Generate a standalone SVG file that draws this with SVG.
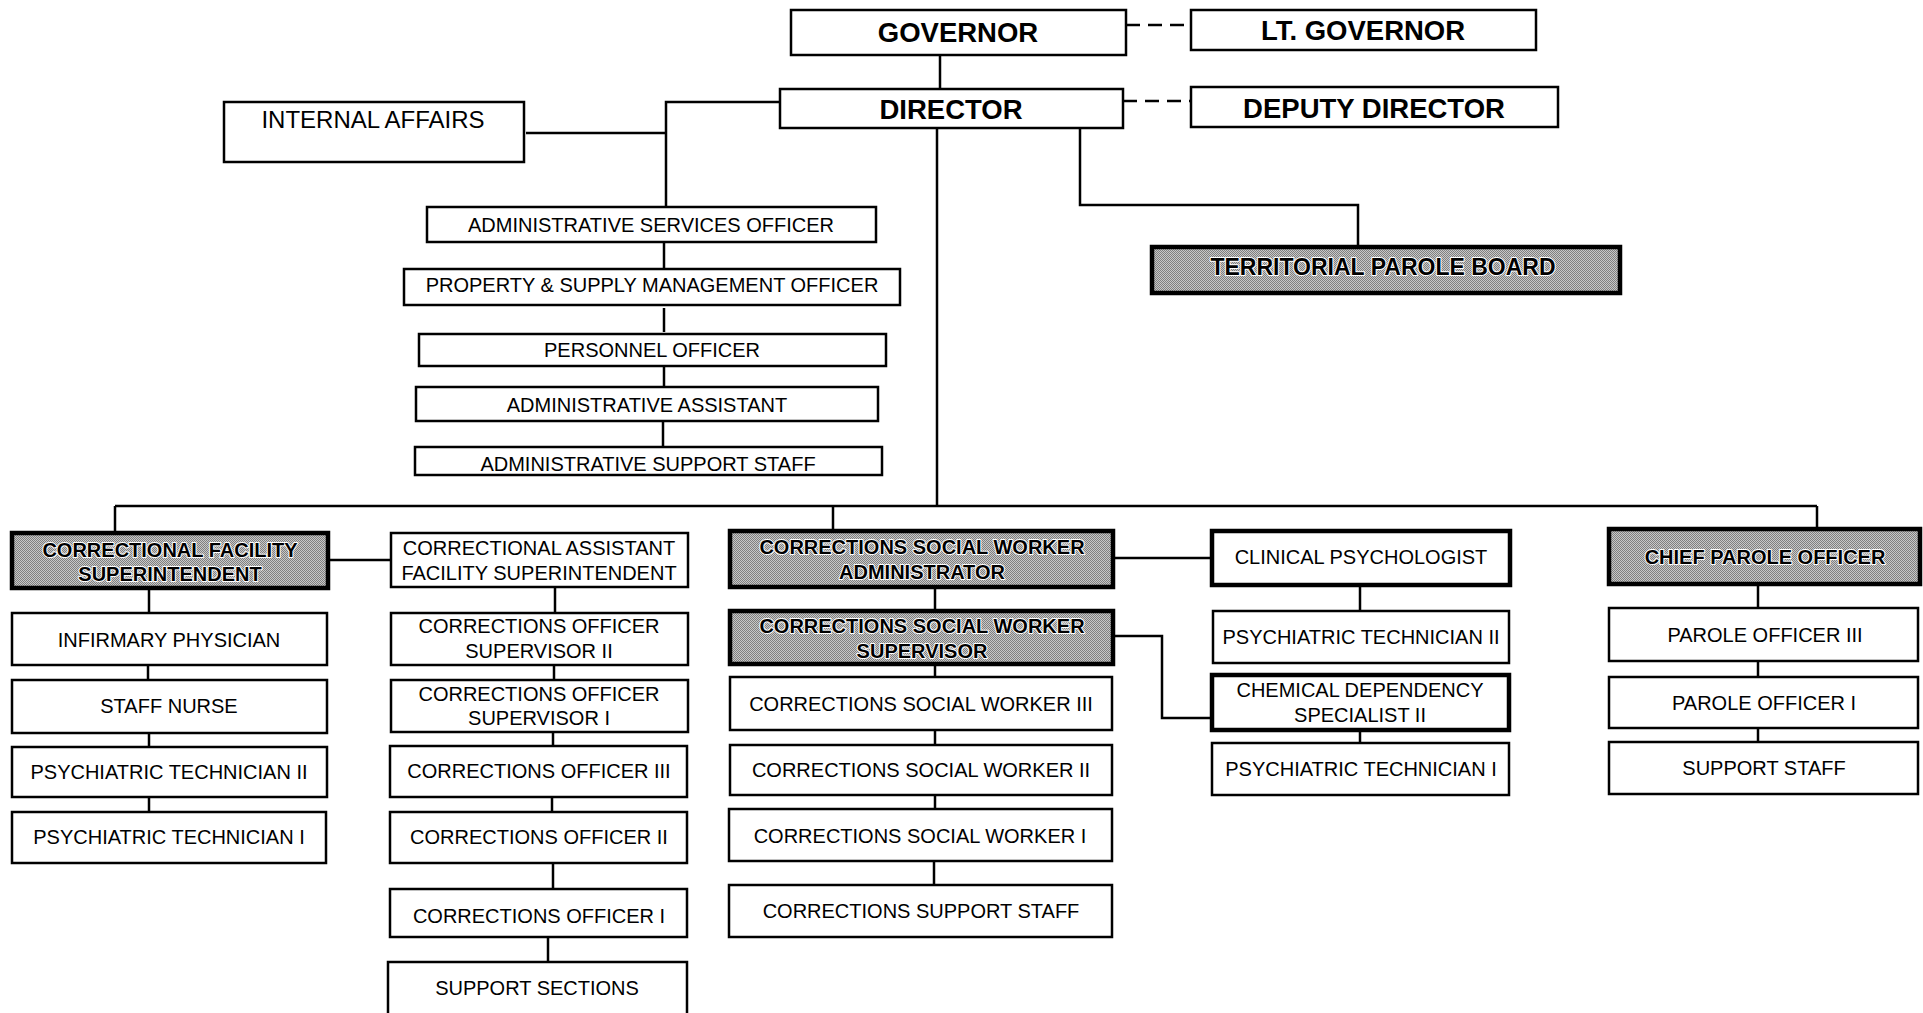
<svg xmlns="http://www.w3.org/2000/svg" width="1923" height="1013" viewBox="0 0 1923 1013">
<defs>
<pattern id="stip" width="2" height="2" patternUnits="userSpaceOnUse">
<rect width="2" height="2" fill="#c8c8c8"/>
<rect width="1" height="1" fill="#808080"/>
<rect x="1" y="1" width="1" height="1" fill="#808080"/>
</pattern>
<style>
.box{fill:#fff;stroke:#000;stroke-width:2.5}
.thick{stroke-width:4.5}
.shade{fill:url(#stip);stroke:#000;stroke-width:4.5}
.t{font-family:"Liberation Sans",Arial,sans-serif;font-size:20px;text-anchor:middle;fill:#000}
.b{font-weight:bold}
.big{font-size:27.5px}
.halo{stroke:#fff;stroke-width:2;paint-order:stroke;stroke-linejoin:round}
.ln{stroke:#000;stroke-width:2.5;fill:none}
.dash{stroke-dasharray:14 8}
</style>
</defs>
<rect width="1923" height="1013" fill="#fff"/>

<g id="connectors">
<line class="ln dash" x1="1126" y1="25" x2="1191" y2="25"/>
<line class="ln dash" x1="1123" y1="101" x2="1191" y2="101"/>
<line class="ln" x1="940" y1="55" x2="940" y2="89"/>
<polyline class="ln" points="780,102 666,102 666,207"/>
<line class="ln" x1="526" y1="133" x2="666" y2="133"/>
<line class="ln" x1="664" y1="242" x2="664" y2="269"/>
<line class="ln" x1="664" y1="308" x2="664" y2="332"/>
<line class="ln" x1="664" y1="366" x2="664" y2="387"/>
<line class="ln" x1="663" y1="421" x2="663" y2="447"/>
<polyline class="ln" points="1080,128 1080,205 1358,205 1358,247"/>
<line class="ln" x1="937" y1="128" x2="937" y2="507"/>
<line class="ln" x1="115" y1="506" x2="1817" y2="506"/>
<line class="ln" x1="115" y1="506" x2="115" y2="533"/>
<line class="ln" x1="833" y1="506" x2="833" y2="531"/>
<line class="ln" x1="1817" y1="506" x2="1817" y2="529"/>
<line class="ln" x1="328" y1="560" x2="391" y2="560"/>
<line class="ln" x1="149" y1="588" x2="149" y2="613"/>
<line class="ln" x1="148" y1="665" x2="148" y2="680"/>
<line class="ln" x1="149" y1="733" x2="149" y2="747"/>
<line class="ln" x1="149" y1="797" x2="149" y2="812"/>
<line class="ln" x1="555" y1="587" x2="555" y2="613"/>
<line class="ln" x1="554" y1="665" x2="554" y2="680"/>
<line class="ln" x1="553" y1="732" x2="553" y2="746"/>
<line class="ln" x1="552" y1="797" x2="552" y2="812"/>
<line class="ln" x1="553" y1="863" x2="553" y2="889"/>
<line class="ln" x1="548" y1="937" x2="548" y2="962"/>
<line class="ln" x1="1113" y1="558" x2="1212" y2="558"/>
<line class="ln" x1="935" y1="587" x2="935" y2="611"/>
<polyline class="ln" points="1113,636 1162,636 1162,718 1212,718"/>
<line class="ln" x1="935" y1="664" x2="935" y2="677"/>
<line class="ln" x1="935" y1="730" x2="935" y2="745"/>
<line class="ln" x1="935" y1="795" x2="935" y2="809"/>
<line class="ln" x1="934" y1="861" x2="934" y2="885"/>
<line class="ln" x1="1360" y1="585" x2="1360" y2="611"/>
<line class="ln" x1="1360" y1="730" x2="1360" y2="743"/>
<line class="ln" x1="1758" y1="584" x2="1758" y2="608"/>
<line class="ln" x1="1758" y1="661" x2="1758" y2="677"/>
<line class="ln" x1="1758" y1="728" x2="1758" y2="742"/>
</g>

<g id="governor"><rect class="box" x="791" y="10" width="335" height="45"/><text class="t b big" x="958" y="42">GOVERNOR</text></g>
<g id="lt-governor"><rect class="box" x="1191" y="10" width="345" height="40"/><text class="t b big" x="1363" y="40">LT. GOVERNOR</text></g>
<g id="director"><rect class="box" x="780" y="89" width="343" height="39"/><text class="t b big" x="951" y="119">DIRECTOR</text></g>
<g id="deputy-director"><rect class="box" x="1191" y="87" width="367" height="40"/><text class="t b big" x="1374" y="118">DEPUTY DIRECTOR</text></g>
<g id="internal-affairs"><rect class="box" x="224" y="102" width="300" height="60"/><text class="t" style="font-size:24px" x="373" y="128">INTERNAL AFFAIRS</text></g>

<g id="admin-services-officer"><rect class="box" x="427" y="207" width="449" height="35"/><text class="t" x="651" y="232">ADMINISTRATIVE SERVICES OFFICER</text></g>
<g id="property-supply"><rect class="box" x="404" y="269" width="496" height="36"/><text class="t" x="652" y="292">PROPERTY &amp; SUPPLY MANAGEMENT OFFICER</text></g>
<g id="personnel-officer"><rect class="box" x="419" y="334" width="467" height="32"/><text class="t" x="652" y="357">PERSONNEL OFFICER</text></g>
<g id="admin-assistant"><rect class="box" x="416" y="387" width="462" height="34"/><text class="t" x="647" y="412">ADMINISTRATIVE ASSISTANT</text></g>
<g id="admin-support-staff"><rect class="box" x="415" y="447" width="467" height="28"/><text class="t" x="648" y="471">ADMINISTRATIVE SUPPORT STAFF</text></g>

<g id="territorial-parole-board"><rect class="shade" x="1152" y="247" width="468" height="46"/><text class="t b halo" style="font-size:23px" x="1383" y="275">TERRITORIAL PAROLE BOARD</text></g>

<g id="facility-superintendent"><rect class="shade" x="12" y="533" width="316" height="55"/><text class="t b halo" x="170" y="557">CORRECTIONAL FACILITY</text><text class="t b halo" x="170" y="581">SUPERINTENDENT</text></g>
<g id="infirmary-physician"><rect class="box" x="12" y="613" width="315" height="52"/><text class="t" x="169" y="647">INFIRMARY PHYSICIAN</text></g>
<g id="staff-nurse"><rect class="box" x="12" y="680" width="315" height="53"/><text class="t" x="169" y="713">STAFF NURSE</text></g>
<g id="psych-tech-2-a"><rect class="box" x="12" y="747" width="315" height="50"/><text class="t" x="169" y="779">PSYCHIATRIC TECHNICIAN II</text></g>
<g id="psych-tech-1-a"><rect class="box" x="12" y="812" width="314" height="51"/><text class="t" x="169" y="844">PSYCHIATRIC TECHNICIAN I</text></g>

<g id="assistant-superintendent"><rect class="box" x="391" y="533" width="297" height="54"/><text class="t" x="539" y="555">CORRECTIONAL ASSISTANT</text><text class="t" x="539" y="580">FACILITY SUPERINTENDENT</text></g>
<g id="co-supervisor-2"><rect class="box" x="391" y="613" width="297" height="52"/><text class="t" x="539" y="633">CORRECTIONS OFFICER</text><text class="t" x="539" y="658">SUPERVISOR II</text></g>
<g id="co-supervisor-1"><rect class="box" x="391" y="680" width="297" height="52"/><text class="t" x="539" y="701">CORRECTIONS OFFICER</text><text class="t" x="539" y="725">SUPERVISOR I</text></g>
<g id="co-3"><rect class="box" x="390" y="746" width="297" height="51"/><text class="t" x="539" y="778">CORRECTIONS OFFICER III</text></g>
<g id="co-2"><rect class="box" x="390" y="812" width="297" height="51"/><text class="t" x="539" y="844">CORRECTIONS OFFICER II</text></g>
<g id="co-1"><rect class="box" x="390" y="889" width="297" height="48"/><text class="t" x="539" y="923">CORRECTIONS OFFICER I</text></g>
<g id="support-sections"><rect class="box" x="388" y="962" width="299" height="56"/><text class="t" x="537" y="995">SUPPORT SECTIONS</text></g>

<g id="csw-administrator"><rect class="shade" x="730" y="531" width="383" height="56"/><text class="t b halo" x="922" y="554">CORRECTIONS SOCIAL WORKER</text><text class="t b halo" x="922" y="579">ADMINISTRATOR</text></g>
<g id="csw-supervisor"><rect class="shade" x="730" y="611" width="383" height="53"/><text class="t b halo" x="922" y="633">CORRECTIONS SOCIAL WORKER</text><text class="t b halo" x="922" y="658">SUPERVISOR</text></g>
<g id="csw-3"><rect class="box" x="730" y="677" width="382" height="53"/><text class="t" x="921" y="711">CORRECTIONS SOCIAL WORKER III</text></g>
<g id="csw-2"><rect class="box" x="730" y="745" width="382" height="50"/><text class="t" x="921" y="777">CORRECTIONS SOCIAL WORKER II</text></g>
<g id="csw-1"><rect class="box" x="729" y="809" width="383" height="52"/><text class="t" x="920" y="843">CORRECTIONS SOCIAL WORKER I</text></g>
<g id="corrections-support-staff"><rect class="box" x="729" y="885" width="383" height="52"/><text class="t" x="921" y="918">CORRECTIONS SUPPORT STAFF</text></g>

<g id="clinical-psychologist"><rect class="box thick" x="1212" y="531" width="298" height="54"/><text class="t" x="1361" y="564">CLINICAL PSYCHOLOGIST</text></g>
<g id="psych-tech-2-b"><rect class="box" x="1213" y="611" width="296" height="52"/><text class="t" x="1361" y="644">PSYCHIATRIC TECHNICIAN II</text></g>
<g id="chemical-dependency"><rect class="box thick" x="1212" y="675" width="297" height="55"/><text class="t" x="1360" y="697">CHEMICAL DEPENDENCY</text><text class="t" x="1360" y="722">SPECIALIST II</text></g>
<g id="psych-tech-1-b"><rect class="box" x="1212" y="743" width="297" height="52"/><text class="t" x="1361" y="776">PSYCHIATRIC TECHNICIAN I</text></g>

<g id="chief-parole-officer"><rect class="shade" x="1609" y="529" width="311" height="55"/><text class="t b halo" x="1765" y="564">CHIEF PAROLE OFFICER</text></g>
<g id="parole-officer-3"><rect class="box" x="1609" y="608" width="309" height="53"/><text class="t" x="1765" y="642">PAROLE OFFICER III</text></g>
<g id="parole-officer-1"><rect class="box" x="1609" y="677" width="309" height="51"/><text class="t" x="1764" y="710">PAROLE OFFICER I</text></g>
<g id="support-staff"><rect class="box" x="1609" y="742" width="309" height="52"/><text class="t" x="1764" y="775">SUPPORT STAFF</text></g>
</svg>
